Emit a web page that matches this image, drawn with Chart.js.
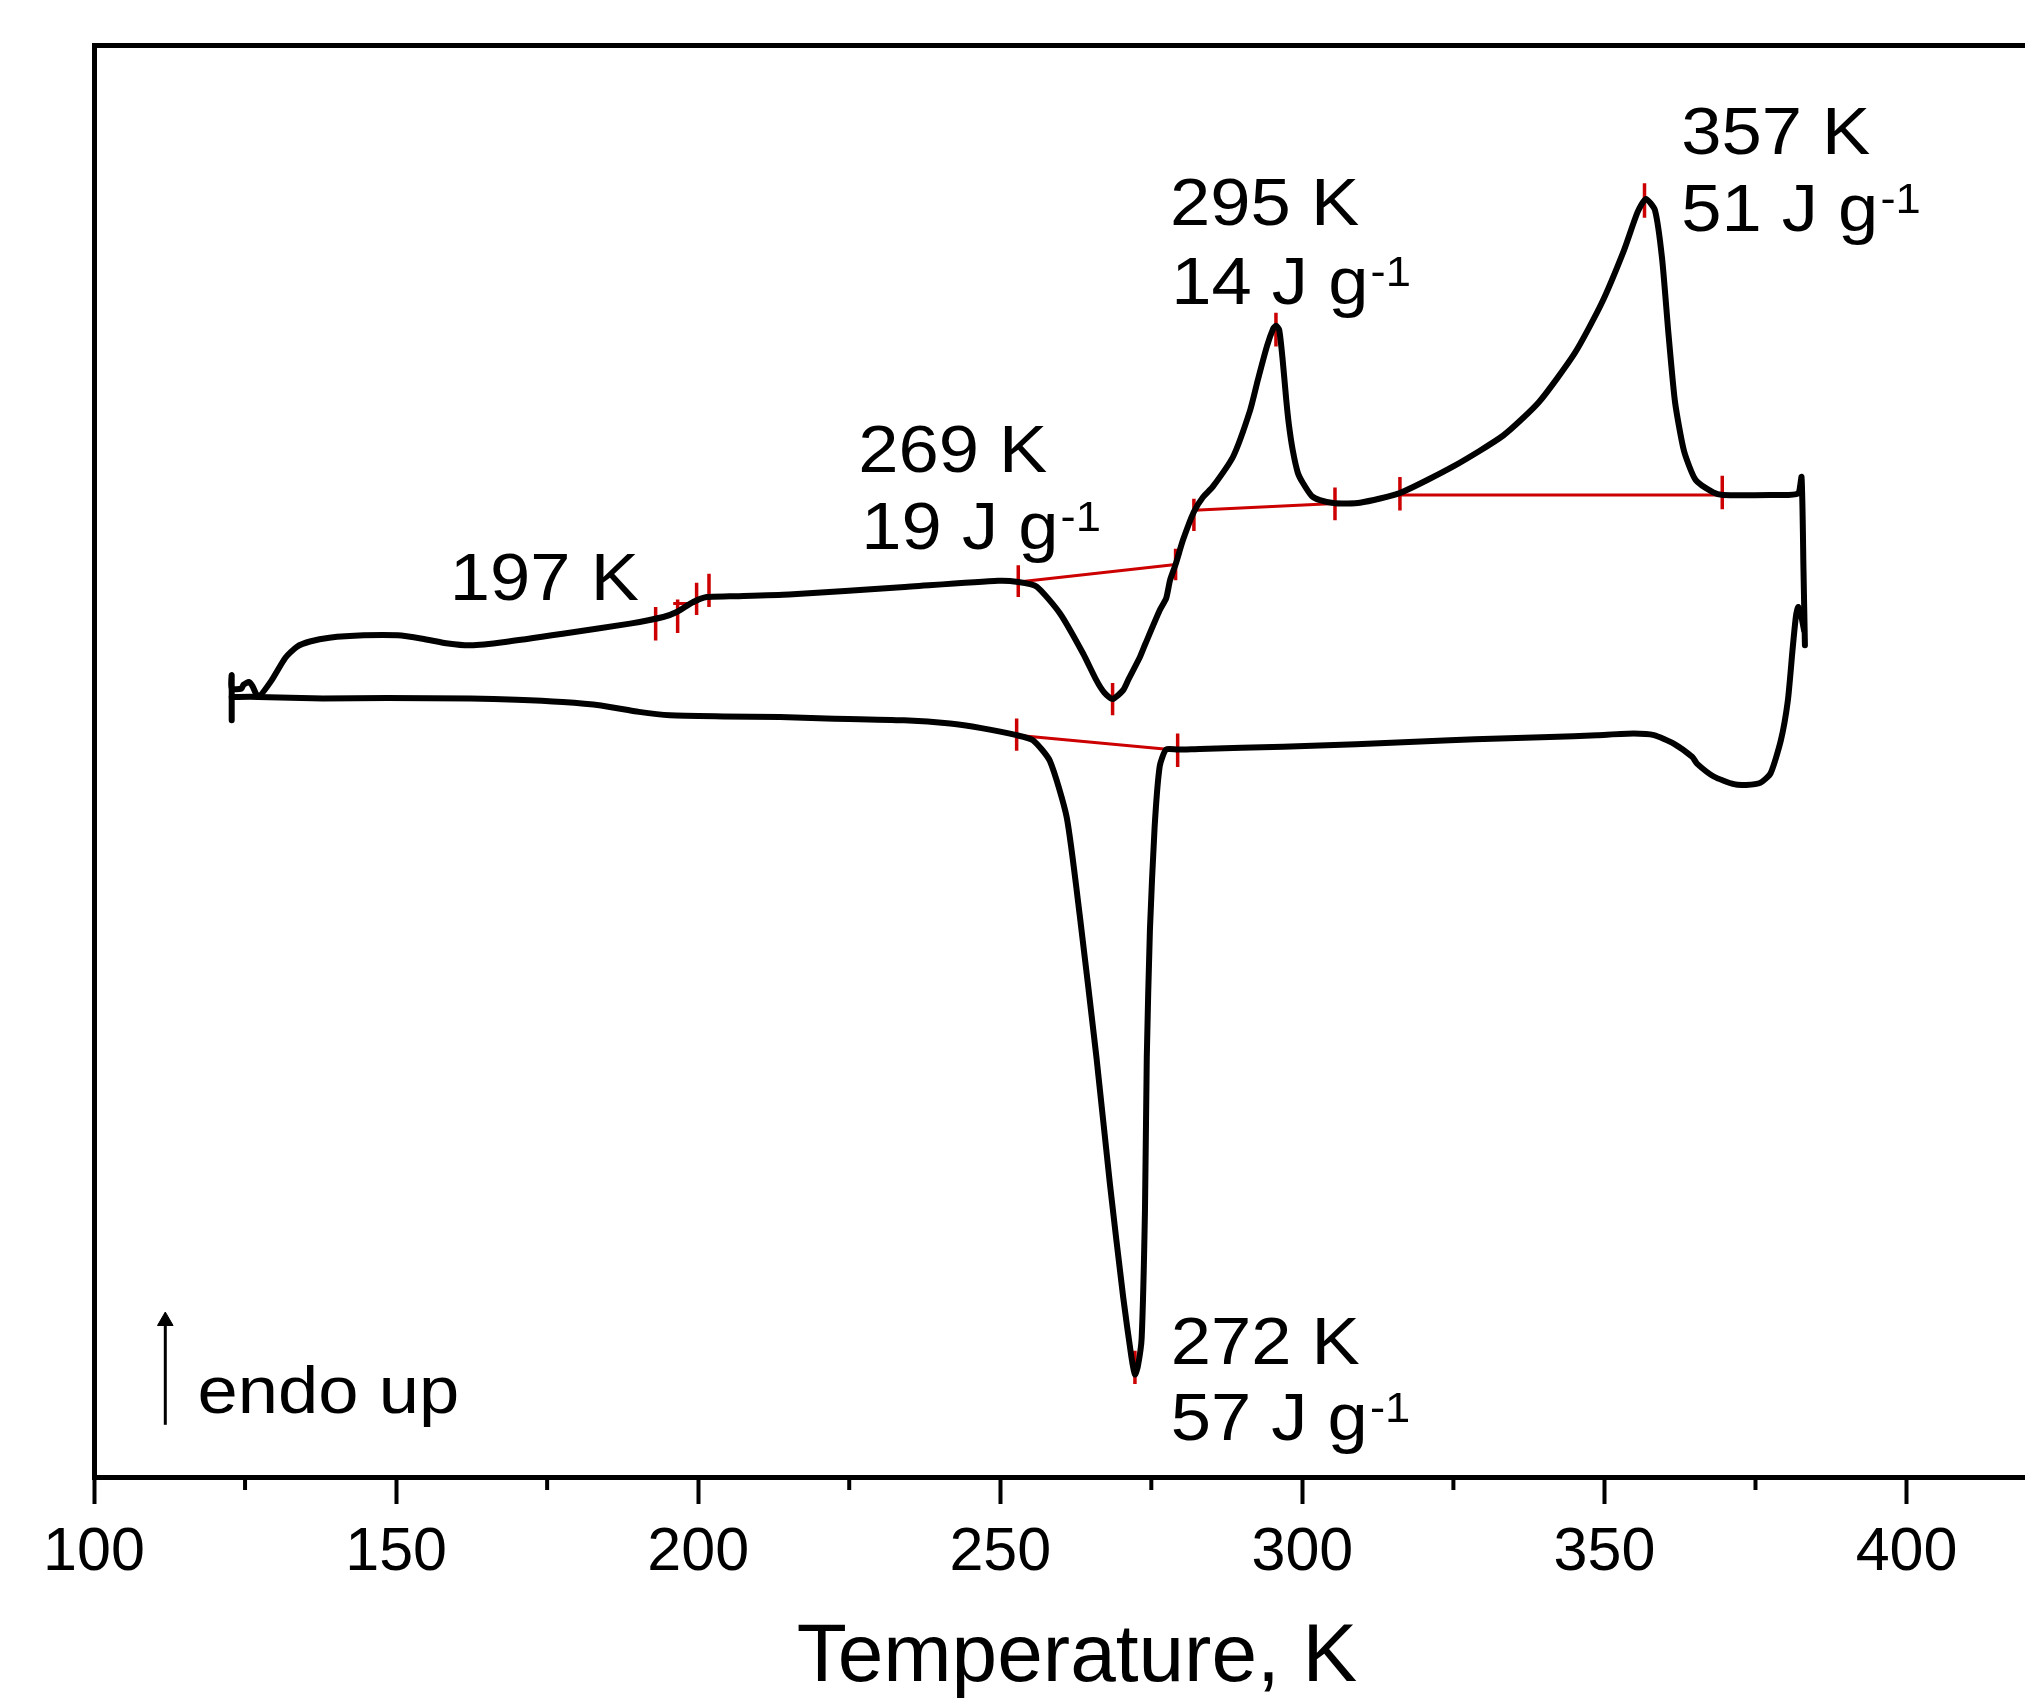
<!DOCTYPE html>
<html>
<head>
<meta charset="utf-8">
<script src="https://cdn.jsdelivr.net/npm/chart.js@4.4.1/dist/chart.umd.min.js"></script>
<style>
  html, body { margin: 0; padding: 0; background: #ffffff; overflow: hidden; width: 2025px; height: 1699px; }
  #wrap { position: absolute; left: 0; top: 0; width: 2025px; height: 1699px; overflow: hidden; }
  #c { display: block; position: absolute; left: 0; top: 0; }
</style>
</head>
<body>
<div id="wrap"><canvas id="c" width="2070" height="1699"></canvas></div>
<script>
// ---------------- data ----------------
// heating run (upper trace): temperature (K) and heat flow (arbitrary units, endo up)
const heatingT = [122.79,122.79,122.79,124.41,124.73,125.65,126.23,127.19,129.33,131.68,133.60,135.74,138.95,144.63,150.28,154.34,158.61,162.35,168.02,177.57,188.71,194.22,196.45,199.18,201.41,205.21,215.04,233.55,249.67,252.98,256.02,259.89,263.71,265.92,267.20,268.59,270.36,271.26,273.12,274.04,276.39,277.46,278.10,279.02,280.24,282.05,283.57,285.15,288.57,291.35,292.63,294.13,295.20,295.63,296.16,296.70,297.34,297.77,298.41,299.26,300.12,301.53,302.90,305.40,309.52,316.15,325.13,333.25,339.17,345.11,349.49,353.23,355.48,356.85,358.36,359.54,360.61,361.68,363.17,365.10,368.00,369.59,377.49,381.98,382.62,382.94,383.18];
const heatingY = [75.67,80.18,78.83,78.83,79.22,79.50,79.09,78.01,79.61,81.93,83.03,83.55,83.93,84.17,84.17,83.83,83.35,83.17,83.51,84.33,85.34,86.00,86.50,87.50,88.00,88.07,88.26,88.97,89.62,89.50,89.04,86.35,82.35,79.66,78.45,77.80,78.70,79.81,82.00,83.35,86.67,87.87,89.68,91.26,93.69,96.53,98.00,99.01,102.08,106.66,109.70,113.06,114.87,115.12,114.74,111.96,107.67,105.24,102.67,100.40,99.37,98.12,97.69,97.37,97.43,98.40,101.11,104.15,107.50,112.41,117.32,122.67,126.49,127.81,126.68,121.84,114.22,107.50,102.60,99.69,98.46,98.21,98.21,98.33,100.01,90.84,83.17];

// cooling run (lower trace)
const coolingT = [383.05,382.41,382.07,381.68,381.13,380.36,379.20,377.49,375.78,373.43,371.42,368.09,365.31,364.56,361.46,358.19,354.84,348.77,340.94,332.71,324.42,308.88,296.82,283.02,279.36,277.46,276.39,275.54,274.77,274.25,273.95,273.40,272.76,272.29,271.69,270.34,268.16,265.92,263.14,261.00,258.22,255.44,252.71,246.89,241.68,234.07,221.24,213.55,204.14,195.34,190.21,183.92,177.57,169.94,162.35,148.57,137.88,127.19,122.79];
const coolingY = [84.64,86.58,87.00,86.00,82.71,77.67,73.67,70.36,69.41,69.21,69.28,70.05,71.34,71.99,73.34,74.18,74.34,74.18,73.99,73.85,73.67,73.28,73.02,72.81,72.74,72.76,71.08,64.91,54.71,41.96,26.66,13.87,11.03,10.25,12.06,18.00,29.24,41.96,56.23,65.96,71.60,73.67,74.18,74.89,75.35,75.67,75.86,75.99,76.06,76.17,76.51,77.15,77.50,77.73,77.84,77.89,77.86,78.01,78.01];

// integration baselines (red): start/end temperature and heat flow
const baseLineT = [[195.87,199.74],[252.98,279.02],[282.05,305.40],[316.15,369.50],[252.71,279.36]];
const baseLineY = [[87.34,87.34],[89.50,91.26],[96.67,97.34],[98.21,98.21],[74.17,72.67]];

// red vertical markers: temperature, lower and upper heat-flow ends
const markerT    = [192.96,196.60,199.74,201.79,252.98,279.02,268.59,282.05,305.40,295.63,316.15,369.50,356.63,252.71,279.36,272.29];
const markerLow  = [83.66,84.39,86.19,87.01,88.00,89.67,76.17,94.60,95.67,113.06,96.64,96.78,125.93,72.63,71.01,9.30];
const markerHigh = [87.01,87.74,89.42,90.33,91.17,92.83,79.40,97.83,98.94,116.42,99.99,100.13,129.37,75.86,74.34,12.62];

// "endo up" arrow
const arrowT = [111.80, 111.80];
const arrowY = [5.22, 15.60];

// text annotations (anchor = left end of baseline)
const noteText = ['197 K','269 K','19 J g','295 K','14 J g','357 K','51 J g','272 K','57 J g','endo up'];
const noteSup  = ['','','-1','','-1','','-1','','-1',''];
const noteT    = [158.90,226.50,227.00,278.10,278.30,362.70,362.70,278.20,278.20,117.15];
const noteY    = [87.67,100.47,92.77,125.17,117.31,132.27,124.57,11.27,3.67,6.40];

// axis ticks
const xMajorTicks = [100,150,200,250,300,350,400];
const xMinorTicks = [125,175,225,275,325,375];
const xTitle = 'Temperature, K';

// ---------------- build datasets ----------------
const FONT = "'Liberation Sans', Arial, Helvetica, sans-serif";
const RED = '#cc0000';
const toXY = (xs, ys) => xs.map((x, i) => ({x: x, y: ys[i]}));

const baseLinePts = [];
baseLineT.forEach((seg, i) => {
  baseLinePts.push({x: seg[0], y: baseLineY[i][0]});
  baseLinePts.push({x: seg[1], y: baseLineY[i][1]});
  baseLinePts.push({x: seg[1], y: null});
});
const markerPts = [];
markerT.forEach((t, i) => {
  markerPts.push({x: t, y: markerLow[i]});
  markerPts.push({x: t, y: markerHigh[i]});
  markerPts.push({x: t, y: null});
});

const datasets = [
  { label: 'heating', data: toXY(heatingT, heatingY), borderColor: '#000', borderWidth: 6,
    tension: 0.2, borderJoinStyle: 'round', borderCapStyle: 'round' },
  { label: 'cooling', data: toXY(coolingT, coolingY), borderColor: '#000', borderWidth: 6,
    tension: 0.2, borderJoinStyle: 'round', borderCapStyle: 'round' },
  { label: 'baselines', data: baseLinePts, borderColor: RED, borderWidth: 3, tension: 0, spanGaps: false },
  { label: 'markers', data: markerPts, borderColor: RED, borderWidth: 3.5, tension: 0, spanGaps: false },
  { label: 'arrow', data: toXY(arrowT, arrowY), borderColor: '#000', borderWidth: 3, tension: 0,
    pointStyle: 'triangle', pointRadius: (c) => c.dataIndex === 1 ? 9 : 0,
    pointBackgroundColor: '#000', pointBorderColor: '#000', pointBorderWidth: 1 }
];
datasets.forEach(d => {
  d.showLine = true;
  if (d.label !== 'arrow') d.pointRadius = 0;
  d.pointHoverRadius = 0;
  d.fill = false;
});

// ---------------- plugins ----------------
const minorTickPlugin = {
  id: 'minorTicks',
  afterDraw(chart) {
    const xs = chart.scales.x;
    const ctx = chart.ctx;
    ctx.save();
    ctx.strokeStyle = '#000';
    ctx.lineWidth = 4;
    xMinorTicks.forEach(v => {
      const px = xs.getPixelForValue(v);
      ctx.beginPath();
      ctx.moveTo(px, xs.top);
      ctx.lineTo(px, xs.top + 13);
      ctx.stroke();
    });
    ctx.restore();
  }
};

const notePlugin = {
  id: 'notes',
  afterDatasetsDraw(chart) {
    const xs = chart.scales.x, ys = chart.scales.y, ctx = chart.ctx;
    const main = 67, sup = 42, stretch = 1.08;
    ctx.save();
    ctx.fillStyle = '#000';
    ctx.textAlign = 'left';
    ctx.textBaseline = 'alphabetic';
    noteText.forEach((t, i) => {
      const px = xs.getPixelForValue(noteT[i]);
      const py = ys.getPixelForValue(noteY[i]);
      ctx.save();
      ctx.translate(px, py);
      ctx.scale(stretch, 1);
      ctx.font = main + 'px ' + FONT;
      ctx.fillText(t, 0, 0);
      if (noteSup[i]) {
        const w = ctx.measureText(t).width;
        ctx.font = sup + 'px ' + FONT;
        ctx.fillText(noteSup[i], w + 2, -0.716 * main + 0.716 * sup);
      }
      ctx.restore();
    });
    ctx.restore();
  }
};

// ---------------- chart ----------------
Chart.defaults.font.family = FONT;
Chart.defaults.color = '#000';

new Chart(document.getElementById('c'), {
  type: 'scatter',
  data: { datasets: datasets },
  options: {
    responsive: false,
    animation: false,
    devicePixelRatio: 1,
    layout: { padding: { left: 94, top: 45, right: 0, bottom: 0 } },
    plugins: { legend: { display: false }, tooltip: { enabled: false } },
    events: [],
    scales: {
      x: {
        type: 'linear', position: 'bottom', min: 100, max: 425.4,
        afterBuildTicks: (s) => { s.ticks = xMajorTicks.map(v => ({ value: v })); },
        afterFit: (s) => { s.height = 222; s.paddingLeft = 0; s.paddingRight = 0; },
        ticks: { display: true, color: '#000', padding: 19, maxRotation: 0, autoSkip: false,
                 font: { size: 61, lineHeight: 1 } },
        grid: { drawOnChartArea: false, drawTicks: true, tickLength: 27, tickWidth: 4, tickColor: '#000' },
        border: { display: true, width: 5, color: '#000' },
        title: { display: true, text: xTitle, color: '#000', font: { size: 82, lineHeight: 1 },
                 padding: { top: 0, bottom: 0 } }
      },
      xTop: {
        type: 'linear', position: 'top', min: 100, max: 425.4,
        afterBuildTicks: (s) => { s.ticks = []; },
        afterFit: (s) => { s.height = 0; s.paddingLeft = 0; s.paddingRight = 0; },
        ticks: { display: false },
        grid: { drawOnChartArea: false, drawTicks: false },
        border: { display: true, width: 5, color: '#000' }
      },
      y: {
        type: 'linear', position: 'left', min: 0, max: 143.2,
        afterFit: (s) => { s.width = 0; s.paddingTop = 0; s.paddingBottom = 0; },
        ticks: { display: false },
        grid: { drawOnChartArea: false, drawTicks: false },
        border: { display: true, width: 5, color: '#000' }
      }
    }
  },
  plugins: [minorTickPlugin, notePlugin]
});
</script>
</body>
</html>
